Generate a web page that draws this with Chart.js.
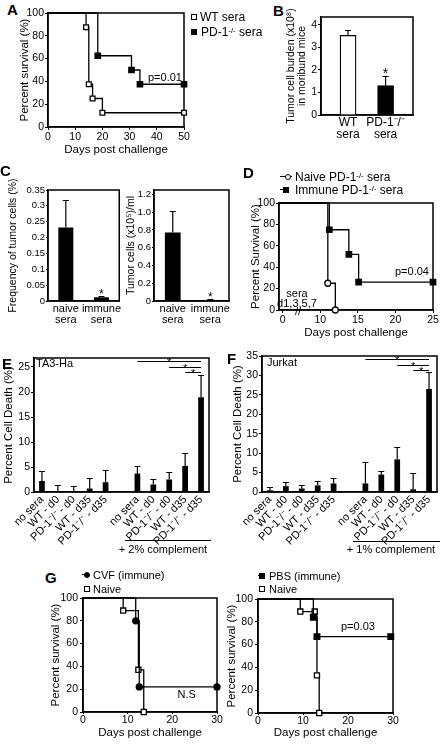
<!DOCTYPE html>
<html>
<head>
<meta charset="utf-8">
<title>PD-1 sera figure</title>
<script src="https://cdn.jsdelivr.net/npm/chart.js@4.4.1/dist/chart.umd.min.js"></script>
<style>
  html, body { margin: 0; padding: 0; background: #fff; }
  body { position: relative; width: 441px; height: 752px; overflow: hidden;
         font-family: 'Liberation Sans', Arial, sans-serif; color: #000; }
  canvas { position: absolute; }
  .t { position: absolute; white-space: nowrap; line-height: 1; transform: translateY(-50%); font-size: 12px; }
  .c { transform: translate(-50%, -50%); }
  .s11 { font-size: 11px; }
  .p { font-weight: bold; font-size: 15px; }
  .t sup { font-size: 0.65em; vertical-align: 0.45em; line-height: 0; }
  .mk { position: absolute; width: 6px; height: 6px; transform: translate(-50%, -50%);
        box-sizing: border-box; border: 1.3px solid #000; background: #000; }
  .open { background: #fff; }
  .round { border-radius: 50%; }
  .ln { position: absolute; height: 0; border-top: 1.3px solid #000; }
</style>
</head>
<body>
<canvas id="chartA"></canvas>
<canvas id="chartB"></canvas>
<canvas id="chartC1"></canvas>
<canvas id="chartC2"></canvas>
<canvas id="chartD"></canvas>
<canvas id="chartE"></canvas>
<canvas id="chartF"></canvas>
<canvas id="chartG1"></canvas>
<canvas id="chartG2"></canvas>

<!-- panel letters -->
<div class="t p" style="left:7px;top:9px">A</div>
<div class="t p" style="left:273px;top:10px">B</div>
<div class="t p" style="left:0px;top:170px">C</div>
<div class="t p" style="left:243px;top:172px">D</div>
<div class="t p" style="left:2px;top:363px">E</div>
<div class="t p" style="left:227px;top:358px">F</div>
<div class="t p" style="left:45px;top:577px">G</div>

<!-- legend A -->
<i class="mk open" style="left:194px;top:17px"></i>
<div class="t" style="left:200px;top:17px">WT sera</div>
<i class="mk" style="left:194px;top:32px"></i>
<div class="t" style="left:201px;top:32px">PD-1<sup>-/-</sup> sera</div>

<!-- legend D -->
<i class="ln" style="left:280px;top:176px;width:12px"></i>
<i class="mk open round" style="left:288px;top:177px"></i>
<div class="t" style="left:295px;top:177px">Naive PD-1<sup>-/-</sup> sera</div>
<i class="ln" style="left:280px;top:189px;width:7px"></i>
<i class="mk" style="left:286px;top:190px"></i>
<div class="t" style="left:295px;top:190px">Immune PD-1<sup>-/-</sup> sera</div>
<div class="t c s11" style="left:297px;top:293px">sera</div>
<div class="t c s11" style="left:297px;top:303px">d1,3,5,7</div>
<div class="t c s11" style="left:298px;top:311px">//</div>

<!-- E / F labels -->
<div class="t s11" style="left:36px;top:363px">TA3-Ha</div>
<div class="t s11" style="left:267px;top:362px">Jurkat</div>
<i class="ln" style="left:125px;top:540px;width:86px"></i>
<div class="t c s11" style="left:163px;top:549px">+ 2% complement</div>
<i class="ln" style="left:353px;top:541px;width:87px"></i>
<div class="t c s11" style="left:391px;top:549px">+ 1% complement</div>

<!-- legends G -->
<i class="ln" style="left:82px;top:574px;width:4px"></i>
<i class="mk round" style="left:87px;top:575px"></i>
<div class="t s11" style="left:93px;top:575px">CVF (immune)</div>
<i class="mk open" style="left:87px;top:589px"></i>
<div class="t s11" style="left:93px;top:589px">Naive</div>
<i class="ln" style="left:258px;top:575px;width:4px"></i>
<i class="mk" style="left:262px;top:576px"></i>
<div class="t s11" style="left:269px;top:576px">PBS (immune)</div>
<i class="mk open" style="left:262px;top:589px"></i>
<div class="t s11" style="left:269px;top:589px">Naive</div>

<script>
// ---- data ----
// A: survival after WT vs PD-1-/- sera
const aWtDays = [0, 14, 15, 16.4, 20, 50];
const aWtSurv = [100, 87.5, 37.5, 25, 12.5, 12.5];
const aPdDays = [0, 18.3, 30.7, 33.8, 50];
const aPdSurv = [100, 62.5, 50, 37.5, 37.5];

// B: tumor burden in moribund mice
const bGroups = [['WT', 'sera'], ['PD-1⁻/⁻', 'sera']];
const bBurden = [3.54, 1.31];
const bErr = [0.22, 0.43];

// C: naive vs immune sera
const cGroups = [['naive', 'sera'], ['immune', 'sera']];
const cFreq = [0.232, 0.012];
const cFreqErr = [0.088, 0.004];
const cCells = [0.77, 0.012];
const cCellsErr = [0.24, 0.01];

// D: naive vs immune PD-1-/- sera (axis broken between 0 and 10)
const dNaiveDays = [0, 11, 12];
const dNaiveSurv = [100, 25, 0];
const dImmDays = [0, 11.2, 13.8, 15.1, 25];
const dImmSurv = [100, 75, 52, 26, 26];
const dTickDays = [5, 10, 15, 20, 25];
const dTickLabels = ['0', '10', '15', '20', '25'];

// E / F: cell death
const cdGroups = ['no sera', 'WT - d0', 'PD-1⁻/⁻ - d0', 'WT - d35', 'PD-1⁻/⁻ - d35', '',
                  'no sera', 'WT - d0', 'PD-1⁻/⁻ - d0', 'WT - d35', 'PD-1⁻/⁻ - d35'];
const eDeath = [2.2, 0.2, 0.05, 0.7, 1.95, null, 3.7, 1.5, 2.5, 5.2, 18.95];
const eErr = [2.0, 1.3, 1.1, 2.1, 2.4, null, 1.5, 1.1, 1.5, 2.6, 4.45];
const eSigFrom = [6, 8, 9];
const eSigY = [26.2, 25.1, 24.1];
const fDeath = [0.45, 1.5, 0.9, 1.7, 2.2, null, 2.2, 4.5, 8.4, 0.7, 26.5];
const fErr = [0.85, 1.1, 0.8, 1.1, 1.5, null, 5.55, 0.8, 3.2, 4.2, 4.5];
const fSigFrom = [6, 8, 9];
const fSigY = [34.2, 32.7, 31.4];

// G: CVF / PBS treated immune mice vs naive
const gCvfDays = [0, 11.8, 12.6, 30];
const gCvfSurv = [100, 80, 22, 22];
const gNaive1Days = [0, 9, 12.4, 13.6];
const gNaive1Surv = [100, 89, 37, 0];
const gPbsDays = [0, 12.3, 13.1, 29.5];
const gPbsSurv = [100, 84, 67, 67];
const gNaive2Days = [0, 9.4, 12.6, 13.1, 13.6];
const gNaive2Surv = [100, 89, 89, 33, 0];

// ---- helpers ----
const FONT = "'Liberation Sans', Arial, sans-serif";
Chart.defaults.font.family = FONT;
Chart.defaults.color = '#000';
Chart.defaults.animation = false;
Chart.defaults.plugins.legend.display = false;
Chart.defaults.plugins.tooltip.enabled = false;

// size and place a canvas so the plot area lands on `plot`
function place(id, plot, m) {
  const cv = document.getElementById(id);
  const w = plot.r - plot.l + m.yW + m.pR;
  const h = plot.b - plot.t + m.pT + m.xH;
  cv.width = w; cv.height = h;
  cv.style.left = (plot.l - m.yW) + 'px';
  cv.style.top = (plot.t - m.pT) + 'px';
  cv.style.width = w + 'px';
  cv.style.height = h + 'px';
  return cv;
}

const frame = {
  id: 'frame',
  beforeDatasetsDraw(chart) {
    const a = chart.chartArea, ctx = chart.ctx;
    ctx.save();
    ctx.strokeStyle = '#000';
    ctx.lineWidth = 1.5;
    ctx.strokeRect(a.left, a.top, a.right - a.left, a.bottom - a.top);
    ctx.restore();
  }
};

function errorBars(vals, errs) {
  return {
    id: 'errorBars',
    afterDatasetsDraw(chart) {
      const { ctx, scales: { y } } = chart;
      ctx.save();
      ctx.strokeStyle = '#000';
      ctx.lineWidth = 1.2;
      chart.getDatasetMeta(0).data.forEach((bar, i) => {
        if (vals[i] == null || errs[i] == null) return;
        const top = Math.round(y.getPixelForValue(vals[i] + errs[i])) + 0.5;
        ctx.beginPath();
        ctx.moveTo(bar.x, bar.y);
        ctx.lineTo(bar.x, top);
        ctx.moveTo(bar.x - 3, top);
        ctx.lineTo(bar.x + 3, top);
        ctx.stroke();
      });
      ctx.restore();
    }
  };
}

// texts and significance brackets in data coordinates
function notes(items, sigFrom, sigTo, sigY) {
  return {
    id: 'notes',
    afterDatasetsDraw(chart) {
      const { ctx, scales: { x, y } } = chart;
      ctx.save();
      ctx.fillStyle = '#000';
      ctx.strokeStyle = '#000';
      ctx.lineWidth = 1;
      ctx.textAlign = 'center';
      (sigFrom || []).forEach((from, i) => {
        const yy = Math.round(y.getPixelForValue(sigY[i])) + 0.5;
        const x1 = x.getPixelForValue(from), x2 = x.getPixelForValue(sigTo);
        ctx.beginPath();
        ctx.moveTo(x1, yy);
        ctx.lineTo(x2, yy);
        ctx.stroke();
        ctx.font = '11px ' + FONT;
        ctx.textBaseline = 'alphabetic';
        ctx.fillText('*', (x1 + x2) / 2, yy + 4);
      });
      (items || []).forEach(n => {
        ctx.font = (n.size || 11) + 'px ' + FONT;
        ctx.textBaseline = 'middle';
        ctx.fillText(n.text, x.getPixelForValue(n.x), y.getPixelForValue(n.y));
      });
      ctx.restore();
    }
  };
}

function yScale(o) {
  return {
    type: 'linear', min: o.min, max: o.max,
    ticks: { stepSize: o.step, includeBounds: false, padding: o.pad ?? 1,
             font: { size: o.size || 10.5 }, callback: o.fmt },
    grid: { drawOnChartArea: false, tickLength: o.tl ?? 3, color: '#000', lineWidth: 1 },
    border: { color: '#000', width: 1.5 },
    title: { display: true, text: o.title, padding: 0,
             font: { size: o.tsize || 11.5, lineHeight: o.tlh || 1.2 } },
    afterFit: s => { s.width = o.w; }
  };
}

function xDays(o) {
  const sc = {
    type: 'linear', min: o.min, max: o.max,
    ticks: { stepSize: o.step, font: { size: 10.5 }, padding: o.pad ?? 1, maxRotation: 0 },
    grid: { drawOnChartArea: false, tickLength: o.tl ?? 3, color: '#000', lineWidth: 1 },
    border: { color: '#000', width: 1.5 },
    title: { display: true, text: 'Days post challenge', padding: 0, font: { size: 11.5 } },
    afterFit: s => { s.height = o.h; }
  };
  if (o.tickVals) {
    sc.afterBuildTicks = s => { s.ticks = o.tickVals.map(v => ({ value: v })); };
    sc.ticks.callback = (v, i) => o.tickLabels[i];
  }
  return sc;
}

function xCats(h, rot, size) {
  return {
    type: 'category',
    ticks: { font: { size: size, lineHeight: 1 }, padding: 2, autoSkip: false,
             maxRotation: rot, minRotation: rot },
    grid: { display: false, drawTicks: false },
    border: { color: '#000', width: 1.5 },
    afterFit: s => { s.height = h; }
  };
}

function km(days, surv, style, filled, radius) {
  return {
    data: days.map((d, i) => ({ x: d, y: surv[i] })),
    stepped: true,
    borderColor: '#000',
    borderWidth: 1.3,
    fill: false,
    pointStyle: style,
    pointRadius: days.map((d, i) => (i === 0 ? 0 : radius)),
    pointBackgroundColor: filled ? '#000' : '#fff',
    pointBorderColor: '#000',
    pointBorderWidth: 1.3,
    clip: { left: 0, top: false, right: false, bottom: false }
  };
}

function kmChart(id, plot, m, datasets, x, y, items) {
  const cv = place(id, plot, m);
  return new Chart(cv, {
    type: 'line',
    data: { datasets: datasets },
    options: {
      responsive: false,
      devicePixelRatio: 1,
      layout: { padding: { top: m.pT, right: m.pR, left: 0, bottom: 0 } },
      scales: { x: x, y: y }
    },
    plugins: [frame, notes(items)]
  });
}

function barChart(id, plot, m, labels, ds, errs, x, y, items, sigFrom, sigTo, sigY) {
  const cv = place(id, plot, m);
  const vals = ds.data.map(d => (d != null && typeof d === 'object' ? d.y : d));
  return new Chart(cv, {
    type: 'bar',
    data: { labels: labels, datasets: [ds] },
    options: {
      responsive: false,
      devicePixelRatio: 1,
      layout: { padding: { top: m.pT, right: m.pR, left: 0, bottom: 0 } },
      scales: { x: x, y: y }
    },
    plugins: [frame, errorBars(vals, errs), notes(items, sigFrom, sigTo, sigY)]
  });
}

// ---- A ----
const mA = { yW: 30, xH: 30, pT: 10, pR: 12 };
kmChart('chartA', { l: 48, t: 13, r: 184, b: 127 }, mA,
  [km(aWtDays, aWtSurv, 'rect', false, 3.4), km(aPdDays, aPdSurv, 'rect', true, 3.8)],
  xDays({ min: 0, max: 50, step: 10, h: mA.xH }),
  yScale({ min: 0, max: 100, step: 20, w: mA.yW, title: 'Percent survival (%)' }),
  [{ text: 'p=0.01', x: 43, y: 42.7 }]);

// ---- B ---- (linear x so the two bars sit closer together, as in the figure)
const mB = { yW: 35, xH: 30, pT: 17, pR: 8 };
barChart('chartB', { l: 321, t: 17, r: 413, b: 115 }, mB, undefined,
  { data: bBurden.map((v, i) => ({ x: i, y: v })), backgroundColor: ['#fff', '#000'],
    borderColor: '#000', borderWidth: 1.3, barThickness: 16 },
  bErr,
  {
    type: 'linear', min: -0.72, max: 1.73, offset: false,
    afterBuildTicks: s => { s.ticks = bGroups.map((g, i) => ({ value: i })); },
    ticks: { font: { size: 12, lineHeight: 1 }, padding: 2, maxRotation: 0,
             callback: (v, i) => bGroups[i] },
    grid: { display: false, drawTicks: false, offset: false },
    border: { color: '#000', width: 1.5 },
    afterFit: s => { s.height = mB.xH; }
  },
  yScale({ min: 0, max: 4.35, step: 1, w: mB.yW, tsize: 10.5, tlh: 1.05,
           title: ['Tumor cell burden (x10⁸)', 'in moribund mice'] }),
  [{ text: '*', x: 1, y: 1.8, size: 14 }]);

// ---- C ----
const mC1 = { yW: 40, xH: 30, pT: 20, pR: 4 };
barChart('chartC1', { l: 48, t: 190, r: 120, b: 301 }, mC1, cGroups,
  { data: cFreq, backgroundColor: '#000', borderColor: '#000', borderWidth: 0,
    barPercentage: 0.42, categoryPercentage: 1 },
  cFreqErr,
  xCats(mC1.xH, 0, 11),
  yScale({ min: 0, max: 0.35, step: 0.05, w: mC1.yW, size: 9.5, tl: 2, tsize: 10.5, tlh: 1,
           fmt: v => String(Math.round(v * 100) / 100),
           title: 'Frequency of tumor cells (%)' }),
  [{ text: '*', x: 1, y: 0.0205, size: 12 }]);

const mC2 = { yW: 28, xH: 30, pT: 20, pR: 4 };
barChart('chartC2', { l: 154, t: 190, r: 229, b: 301 }, mC2, cGroups,
  { data: cCells, backgroundColor: '#000', borderColor: '#000', borderWidth: 0,
    barPercentage: 0.42, categoryPercentage: 1 },
  cCellsErr,
  xCats(mC2.xH, 0, 11),
  yScale({ min: 0, max: 1.25, step: 0.2, w: mC2.yW, size: 9.5, tl: 2, tsize: 10.5, tlh: 1,
           fmt: v => (v === 0 ? '0' : v.toFixed(1)),
           title: 'Tumor cells (x10⁵)/ml' }),
  [{ text: '*', x: 1, y: 0.033, size: 12 }]);

// ---- D ----
const mD = { yW: 30, xH: 30, pT: 10, pR: 7 };
kmChart('chartD', { l: 279, t: 203, r: 433, b: 310 }, mD,
  [km(dNaiveDays, dNaiveSurv, 'circle', false, 3), km(dImmDays, dImmSurv, 'rect', true, 3.8)],
  xDays({ min: 4.5, max: 25, h: mD.xH, tickVals: dTickDays, tickLabels: dTickLabels }),
  yScale({ min: 0, max: 100, step: 20, w: mD.yW, title: 'Percent Survival (%)' }),
  [{ text: 'p=0.04', x: 22.2, y: 36 }]);

// ---- E ----
const mE = { yW: 32, xH: 56, pT: 8, pR: 6 };
barChart('chartE', { l: 34, t: 358, r: 209, b: 492 }, mE, cdGroups,
  { data: eDeath, backgroundColor: '#000', borderWidth: 0, barPercentage: 0.36, categoryPercentage: 1 },
  eErr,
  xCats(mE.xH, 45, 11),
  yScale({ min: 0, max: 26.8, step: 5, w: mE.yW, title: 'Percent Cell Death (%)' }),
  [], eSigFrom, 10, eSigY);

// ---- F ----
const mF = { yW: 31, xH: 56, pT: 8, pR: 3 };
barChart('chartF', { l: 262, t: 356, r: 437, b: 492 }, mF, cdGroups,
  { data: fDeath, backgroundColor: '#000', borderWidth: 0, barPercentage: 0.36, categoryPercentage: 1 },
  fErr,
  xCats(mF.xH, 45, 11),
  yScale({ min: 0, max: 35, step: 5, w: mF.yW, title: 'Percent Cell Death (%)' }),
  [], fSigFrom, 10, fSigY);

// ---- G ----
const mG1 = { yW: 34, xH: 28, pT: 10, pR: 8 };
kmChart('chartG1', { l: 83, t: 598, r: 217, b: 712 }, mG1,
  [km(gCvfDays, gCvfSurv, 'circle', true, 3), km(gNaive1Days, gNaive1Surv, 'rect', false, 3.6)],
  xDays({ min: 0, max: 30, step: 10, h: mG1.xH, tl: 2, pad: 0 }),
  yScale({ min: 0, max: 100, step: 20, w: mG1.yW, pad: 2, title: 'Percent survival (%)' }),
  [{ text: 'N.S', x: 23.2, y: 14.7 }]);

const mG2 = { yW: 33, xH: 27, pT: 10, pR: 8 };
kmChart('chartG2', { l: 258, t: 599, r: 393, b: 713 }, mG2,
  [km(gPbsDays, gPbsSurv, 'rect', true, 4), km(gNaive2Days, gNaive2Surv, 'rect', false, 3.6)],
  xDays({ min: 0, max: 30, step: 10, h: mG2.xH, tl: 2, pad: 0 }),
  yScale({ min: 0, max: 100, step: 20, w: mG2.yW, pad: 2, title: 'Percent survival (%)' }),
  [{ text: 'p=0.03', x: 22.2, y: 75.8 }]);
</script>
</body>
</html>
